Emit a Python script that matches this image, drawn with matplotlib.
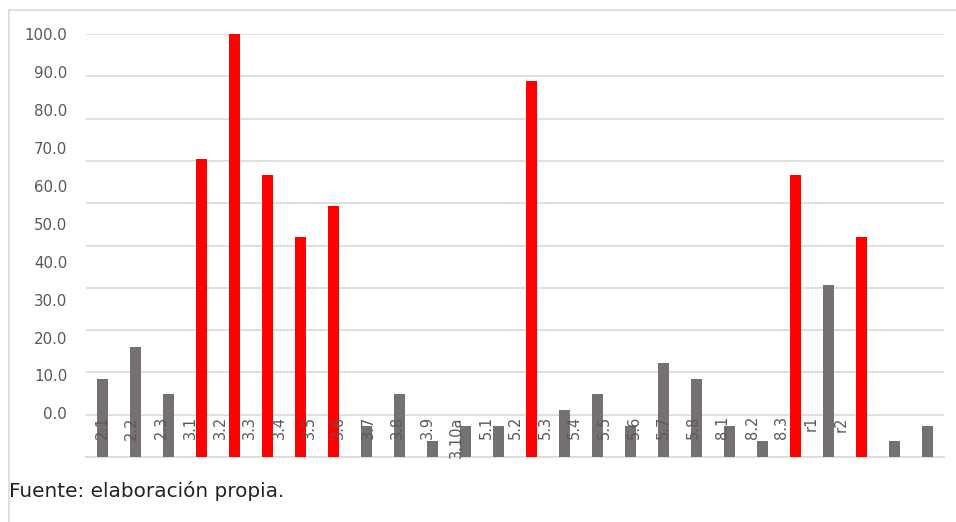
import matplotlib
matplotlib.use('Agg')
import matplotlib.pyplot as plt
import numpy as np
from matplotlib.lines import Line2D

# categories shown under the bars
labels = ['2.1', '2.2', '2.3', '3.1', '3.2', '3.3', '3.4', '3.5', '3.6', '3.7',
          '3.8', '3.9', '3.10a', '5.1', '5.2', '5.3', '5.4', '5.5', '5.6', '5.7',
          '5.8', '8.1', '8.2', '8.3', 'r1', 'r2']

# bar values (percent)
values = [18.5, 25.9, 14.8, 70.4, 100.0, 66.7, 51.9, 59.3, 7.4, 14.8,
          3.7, 7.4, 7.4, 88.9, 11.1, 14.8, 7.4, 22.2, 18.5, 7.4,
          3.7, 66.7, 40.7, 51.9, 3.7, 7.4]

# which bars are highlighted in red
highlight = [False, False, False, True, True, True, True, True, False, False,
             False, False, False, True, False, False, False, False, False, False,
             False, True, False, True, False, False]

y_ticks = [0, 10, 20, 30, 40, 50, 60, 70, 80, 90, 100]

GREY = '#767171'
RED = '#ff0000'
GRID = '#d9d9d9'
TEXT = '#595959'

plt.rcParams['font.family'] = ['DejaVu Sans']

fig = plt.figure(figsize=(9.56, 5.22), dpi=100)
ax = fig.add_axes([86/956, 65/522, 858/956, 423/522])

x = np.arange(len(values))
colors = [RED if h else GREY for h in highlight]
ax.bar(x, values, width=0.33, color=colors, zorder=3)

ax.set_xlim(-0.5, len(values) - 0.5)
ax.set_ylim(0, 100)
ax.set_yticks(y_ticks)
ax.yaxis.grid(True, color=GRID, linewidth=1.2, zorder=0)
for s in ['top', 'right', 'left']:
    ax.spines[s].set_visible(False)
ax.spines['bottom'].set_color(GRID)
ax.spines['bottom'].set_linewidth(1.2)

# value labels sit on their own scale, as in the original Excel export
ax_y = ax.twinx()
ax_y.set_ylim(-11.5, 100.05)
ax_y.set_yticks(y_ticks)
ax_y.set_yticklabels(['%.1f' % v for v in y_ticks])
ax_y.yaxis.set_ticks_position('left')
ax_y.tick_params(axis='y', length=0, pad=13.5, labelsize=10.8, labelcolor=TEXT)
ax_y.tick_params(axis='x', bottom=False, top=False, labelbottom=False)
for s in ax_y.spines.values():
    s.set_visible(False)

# category labels, also on their own scale
ax_x = ax.twiny()
ax_x.set_xlim(-0.55, 28.5)
ax_x.set_xticks(np.arange(len(labels)))
ax_x.set_xticklabels(labels)
ax_x.xaxis.set_ticks_position('bottom')
ax_x.spines['bottom'].set_position(('data', 10))
ax_x.tick_params(axis='x', length=0, pad=1, labelsize=10.5, labelcolor=TEXT,
                 labelrotation=90)
ax_x.tick_params(axis='y', left=False, right=False, labelleft=False)
for s in ax_x.spines.values():
    s.set_visible(False)

# twinx/twiny turn the main ticks back on, so hide them afterwards
ax.tick_params(left=False, bottom=False, right=False, top=False,
               labelleft=False, labelbottom=False)

# frame lines of the chart box
fig.add_artist(Line2D([9/956, 1], [1 - 10/522, 1 - 10/522], color=GRID, linewidth=1.2))
fig.add_artist(Line2D([9/956, 9/956], [0, 1 - 10/522], color=GRID, linewidth=1.2))

fig.text(9/956, 1 - 497/522, 'Fuente: elaboración propia.', fontsize=14.4,
         color='#222222', ha='left', va='baseline')

fig.savefig('out.png', dpi=100)
